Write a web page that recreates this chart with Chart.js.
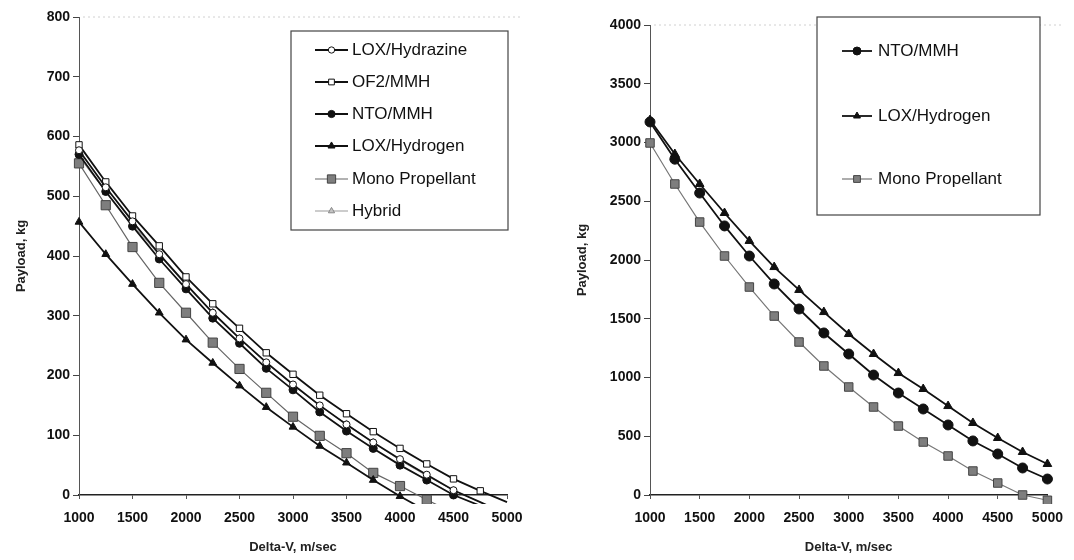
<!DOCTYPE html>
<html>
<head>
<meta charset="utf-8">
<script src="https://cdn.jsdelivr.net/npm/chart.js@4"></script>
<style>
  body { margin: 0; background: #fff; }
  canvas { position: absolute; top: 0; }
  #left { left: 0; }
  #right { left: 537px; }
</style>
</head>
<body>
<canvas id="left" width="537" height="560"></canvas>
<canvas id="right" width="537" height="560"></canvas>
<script>
// Delta-V points (m/sec), same for both charts
const deltaV = [1000, 1250, 1500, 1750, 2000, 2250, 2500, 2750, 3000, 3250, 3500, 3750, 4000, 4250, 4500, 4750, 5000];

// left chart, payload in kg
const loxHydrazine = [577, 515, 458, 403, 353, 305, 262, 222, 185, 150, 118, 88, 60, 34, 8, -12, -32];
const of2Mmh       = [586, 524, 467, 417, 365, 320, 279, 238, 202, 167, 136, 106, 78, 52, 27, 7, -12];
const ntoMmh       = [570, 508, 450, 395, 345, 296, 254, 212, 176, 139, 107, 78, 50, 25, 0, -18, -36];
const loxHydrogen  = [457, 403, 353, 305, 260, 221, 183, 147, 114, 82, 54, 25, -2, -27, null, null, null];
const monoProp     = [555, 485, 415, 355, 305, 255, 211, 171, 131, 99, 70, 37, 15, -8, -30, null, null];
const hybrid       = [566, 507, 453, 401, 351, 306, 262, 221, 184, 149, 119, 88, 58, 32, 8, -12, -32];

// right chart, payload in kg
const ntoMmhR      = [3175, 2858, 2570, 2290, 2034, 1796, 1583, 1379, 1200, 1021, 868, 732, 596, 460, 349, 230, 136];
const loxHydrogenR = [3191, 2902, 2647, 2400, 2162, 1940, 1745, 1557, 1370, 1200, 1038, 902, 757, 613, 485, 366, 264];
const monoPropR    = [2996, 2647, 2323, 2034, 1770, 1523, 1302, 1098, 919, 749, 587, 451, 332, 204, 102, 0, -45];

const xTicks = [1000, 1500, 2000, 2500, 3000, 3500, 4000, 4500, 5000];
const yTicksLeft = [0, 100, 200, 300, 400, 500, 600, 700, 800];
const yTicksRight = [0, 500, 1000, 1500, 2000, 2500, 3000, 3500, 4000];

const FONT = "'Liberation Sans', Arial, sans-serif";

function pts(values) {
  return deltaV.map((x, i) => ({ x: x, y: values[i] }));
}

function series(label, values, style) {
  return Object.assign({
    label: label,
    data: pts(values),
    borderColor: '#111',
    borderWidth: 1.8,
    pointBorderWidth: 1,
    tension: 0,
    spanGaps: false,
    clip: { left: 10, top: 10, right: 10, bottom: 9 }
  }, style);
}

// legend drawn in a box inside the plot, like the original
const boxLegend = {
  id: 'boxLegend',
  beforeDatasetsDraw(chart) {
    const a = chart.chartArea, ctx = chart.ctx;
    ctx.save();
    ctx.strokeStyle = '#d0d0d0';
    ctx.lineWidth = 1;
    ctx.setLineDash([2, 3]);
    ctx.beginPath();
    ctx.moveTo(a.left + 4, a.top);
    ctx.lineTo(a.right + 15, a.top);
    ctx.stroke();
    ctx.restore();
  },
  afterDraw(chart, args, o) {
    const ctx = chart.ctx;
    ctx.save();
    ctx.fillStyle = '#fff';
    ctx.fillRect(o.x, o.y, o.w, o.h);
    ctx.strokeStyle = '#444';
    ctx.lineWidth = 1.2;
    ctx.strokeRect(o.x, o.y, o.w, o.h);
    chart.data.datasets.forEach((ds, i) => {
      const y = o.rows[i];
      ctx.strokeStyle = ds.borderColor;
      ctx.lineWidth = ds.borderWidth;
      ctx.beginPath();
      ctx.moveTo(o.lineX, y);
      ctx.lineTo(o.lineX + o.lineW, y);
      ctx.stroke();
      ctx.fillStyle = ds.pointBackgroundColor;
      ctx.strokeStyle = ds.pointBorderColor;
      ctx.lineWidth = 1;
      Chart.helpers.drawPoint(ctx, { pointStyle: ds.pointStyle, radius: ds.pointRadius * o.markScale, rotation: 0, borderWidth: 1 },
        o.lineX + o.lineW / 2, y);
      ctx.fillStyle = '#111';
      ctx.font = o.font;
      ctx.textBaseline = 'middle';
      ctx.fillText(ds.label, o.textX, y);
    });
    ctx.restore();
  }
};

function scales(yMax, yTickValues, yWidth, yTitlePad) {
  const tickFont = { family: FONT, size: 14, weight: 'bold' };
  const titleFont = { family: FONT, size: 13, weight: 'bold' };
  return {
    x: {
      type: 'linear', min: 1000, max: 5000,
      afterBuildTicks: s => { s.ticks = xTicks.map(v => ({ value: v })); },
      ticks: { color: '#111', font: tickFont, padding: 11, maxRotation: 0, autoSkip: false, callback: v => String(v) },
      grid: { drawOnChartArea: false, tickLength: 4, color: '#555' },
      border: { color: '#222', width: 1.5 },
      title: { display: true, text: 'Delta-V, m/sec', color: '#222', font: titleFont, padding: { top: 0, bottom: 5 } },
      afterFit: s => { s.height = 65; }
    },
    y: {
      type: 'linear', min: 0, max: yMax,
      afterBuildTicks: s => { s.ticks = yTickValues.map(v => ({ value: v })); },
      ticks: { color: '#111', font: tickFont, padding: 3, autoSkip: false, callback: v => String(v) },
      grid: { drawOnChartArea: false, tickLength: 6, color: '#444' },
      border: { color: '#555', width: 1 },
      title: { display: true, text: 'Payload, kg', color: '#222', font: titleFont, padding: { top: yTitlePad, bottom: 0 } },
      afterFit: s => { s.width = yWidth; }
    }
  };
}

new Chart(document.getElementById('left').getContext('2d'), {
  type: 'line',
  data: {
    datasets: [
      series('LOX/Hydrazine', loxHydrazine, { pointStyle: 'circle', pointRadius: 3.5, pointBackgroundColor: '#fff', pointBorderColor: '#111' }),
      series('OF2/MMH', of2Mmh, { pointStyle: 'rect', pointRadius: 4.5, pointBackgroundColor: '#fff', pointBorderColor: '#111' }),
      series('NTO/MMH', ntoMmh, { pointStyle: 'circle', pointRadius: 4, pointBackgroundColor: '#111', pointBorderColor: '#111' }),
      series('LOX/Hydrogen', loxHydrogen, { pointStyle: 'triangle', pointRadius: 4.5, pointBackgroundColor: '#111', pointBorderColor: '#111' }),
      series('Mono Propellant', monoProp, { borderColor: '#666', borderWidth: 1.2, pointStyle: 'rect', pointRadius: 6.5, pointBackgroundColor: '#7e7e7e', pointBorderColor: '#444' }),
      series('Hybrid', hybrid, { borderColor: '#999', borderWidth: 1, pointStyle: 'triangle', pointRadius: 4, pointBackgroundColor: '#c4c4c4', pointBorderColor: '#888' })
    ]
  },
  options: {
    responsive: false,
    animation: false,
    devicePixelRatio: 1,
    layout: { padding: { left: 0, top: 17, right: 30, bottom: 0 } },
    scales: scales(800, yTicksLeft, 79, 14),
    plugins: {
      legend: { display: false },
      tooltip: { enabled: false },
      boxLegend: { x: 291, y: 31, w: 217, h: 199, rows: [50, 82, 114, 146, 179, 211],
        lineX: 315, lineW: 33, textX: 352, markScale: 0.9, font: "17px " + FONT }
    }
  },
  plugins: [boxLegend]
});

new Chart(document.getElementById('right').getContext('2d'), {
  type: 'line',
  data: {
    datasets: [
      series('NTO/MMH', ntoMmhR, { pointStyle: 'circle', pointRadius: 5, pointBackgroundColor: '#111', pointBorderColor: '#111' }),
      series('LOX/Hydrogen', loxHydrogenR, { pointStyle: 'triangle', pointRadius: 5, pointBackgroundColor: '#111', pointBorderColor: '#111' }),
      series('Mono Propellant', monoPropR, { borderColor: '#777', borderWidth: 1.2, pointStyle: 'rect', pointRadius: 6, pointBackgroundColor: '#7e7e7e', pointBorderColor: '#444' })
    ]
  },
  options: {
    responsive: false,
    animation: false,
    devicePixelRatio: 1,
    layout: { padding: { left: 0, top: 25, right: 21, bottom: 0 } },
    scales: scales(4000, yTicksRight, 113, 38),
    plugins: {
      legend: { display: false },
      tooltip: { enabled: false },
      boxLegend: { x: 280, y: 17, w: 223, h: 198, rows: [51, 116, 179],
        lineX: 305, lineW: 30, textX: 341, markScale: 0.8, font: "17px " + FONT }
    }
  },
  plugins: [boxLegend]
});
</script>
</body>
</html>
